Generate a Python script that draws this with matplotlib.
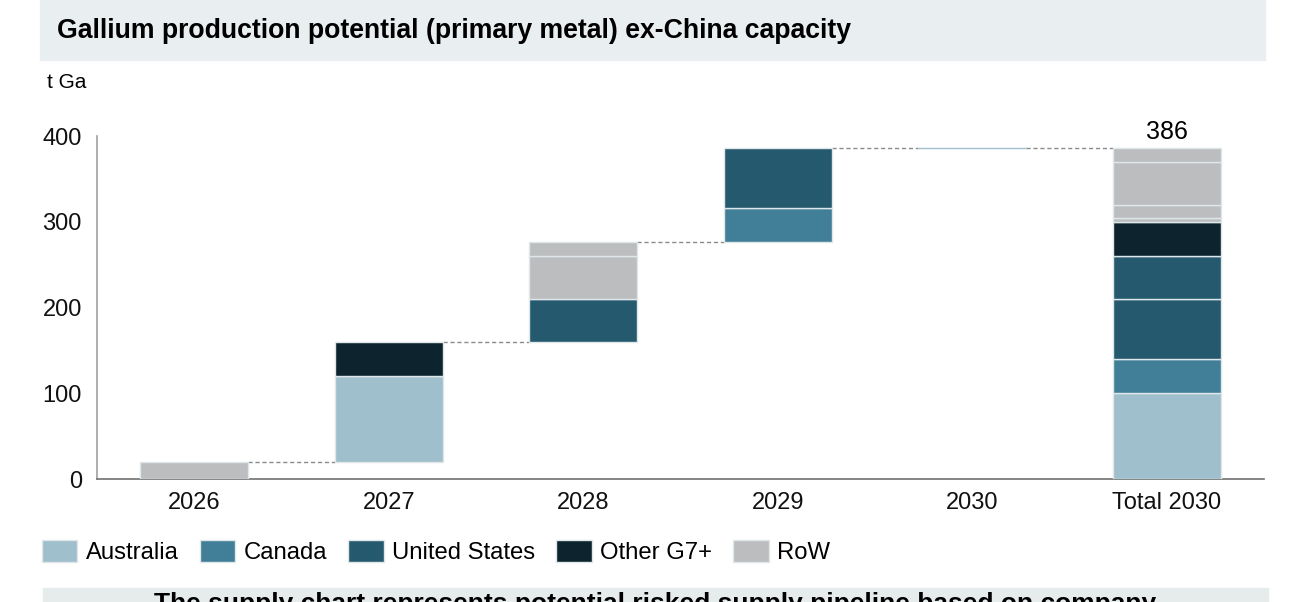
import matplotlib
matplotlib.use("Agg")
import matplotlib.pyplot as plt
from matplotlib.patches import Patch, Rectangle

plt.rcParams['font.family'] = ['Liberation Sans', 'DejaVu Sans']

# ---- data ----
categories = ["2026", "2027", "2028", "2029", "2030", "Total 2030"]
series_names = ["Australia", "Canada", "United States", "Other G7+", "RoW"]
series_colors = ["#9fbfcc", "#417f98", "#255a6e", "#0d242e", "#bcbdbf"]

# incremental segments per year (series, value)
seg_2026_series = ["RoW"]
seg_2026_values = [20]
seg_2027_series = ["Australia", "Other G7+"]
seg_2027_values = [100, 40]
seg_2028_series = ["United States", "RoW", "RoW"]
seg_2028_values = [50, 50, 16]
seg_2029_series = ["Canada", "United States"]
seg_2029_values = [40, 70]
seg_2030_series = ["Australia"]
seg_2030_values = [0.6]

# total 2030 stacked segments
total_series = ["Australia", "Canada", "United States", "United States",
                "Other G7+", "RoW", "RoW", "RoW", "RoW"]
total_values = [100, 40, 70, 50, 40, 5, 15, 50, 16]

title = "Gallium production potential (primary metal) ex-China capacity"
unit_label = "t Ga"
footer = "The supply chart represents potential risked supply pipeline based on company"

color_map = dict(zip(series_names, series_colors))
year_series = [seg_2026_series, seg_2027_series, seg_2028_series, seg_2029_series, seg_2030_series]
year_values = [seg_2026_values, seg_2027_values, seg_2028_values, seg_2029_values, seg_2030_values]

# ---- figure ----
fig = plt.figure(figsize=(13.06, 6.02), dpi=100)
ax = fig.add_axes([0.0743, 0.2043, 0.8937, 0.5697])

bar_w = 0.555
edge = "#dfe7ea"
base = 0
tops = []
for i, (ss, vv) in enumerate(zip(year_series, year_values)):
    b = base
    for s, v in zip(ss, vv):
        ax.bar(i, v, bottom=b, width=bar_w, color=color_map[s],
               edgecolor=edge if v > 2 else color_map[s], linewidth=1.0, zorder=3)
        b += v
    base = b
    tops.append(base)

b = 0
ti = len(categories) - 1
for s, v in zip(total_series, total_values):
    ax.bar(ti, v, bottom=b, width=bar_w, color=color_map[s],
           edgecolor=edge, linewidth=1.0, zorder=3)
    b += v
total = sum(total_values)
ax.text(ti, total + 5, f"{total:.0f}", ha="center", va="bottom", fontsize=18)

# connectors
for i, t in enumerate(tops):
    ax.plot([i + bar_w / 2, i + 1 - bar_w / 2], [t, t], ls=(0, (3, 2)),
            color="#8a8a8a", lw=1.0, zorder=2)

ax.set_xlim(-0.5, len(categories) - 0.5)
ax.set_ylim(0, 400)
ax.set_yticks([0, 100, 200, 300, 400])
ax.set_xticks(range(len(categories)))
ax.set_xticklabels(categories)
ax.tick_params(axis="both", length=0, labelsize=17, colors="#111111")
ax.tick_params(axis="y", pad=11)
ax.tick_params(axis="x", pad=9)
for sp in ["top", "right"]:
    ax.spines[sp].set_visible(False)
ax.spines["left"].set_color("#a0a0a0")
ax.spines["bottom"].set_color("#707070")
ax.spines["left"].set_linewidth(1.2)
ax.spines["bottom"].set_linewidth(1.2)

# title banner
fig.patches.append(Rectangle((40 / 1306, 1 - 60 / 602), 1225 / 1306, 60 / 602,
                             transform=fig.transFigure, color="#e9eef0", zorder=0))
fig.text(57 / 1306, 1 - 31 / 602, title, fontsize=19.2, fontweight="bold",
         va="center", ha="left")
fig.text(47 / 1306, 1 - 83 / 602, unit_label, fontsize=15, va="center", ha="left")

# legend
handles = [Patch(facecolor=c, edgecolor="#dfe7ea", label=n) for n, c in zip(series_names, series_colors)]
fig.legend(handles=handles, loc="center left", bbox_to_anchor=(42 / 1306, 1 - 552 / 602),
           ncol=5, frameon=False, fontsize=17.2, handlelength=1.48, handleheight=1.06,
           handletextpad=0.34, columnspacing=0.9, borderpad=0, borderaxespad=0)

# footer banner (cut off at the bottom edge, as in the reference)
fig.patches.append(Rectangle((43 / 1306, 0), 1225 / 1306, 14 / 602,
                             transform=fig.transFigure, color="#e6ecec", zorder=0))
fig.text(655 / 1306, 1 - 592 / 602, footer, fontsize=19, fontweight="bold",
         va="top", ha="center")

fig.savefig("out.png", dpi=100)
